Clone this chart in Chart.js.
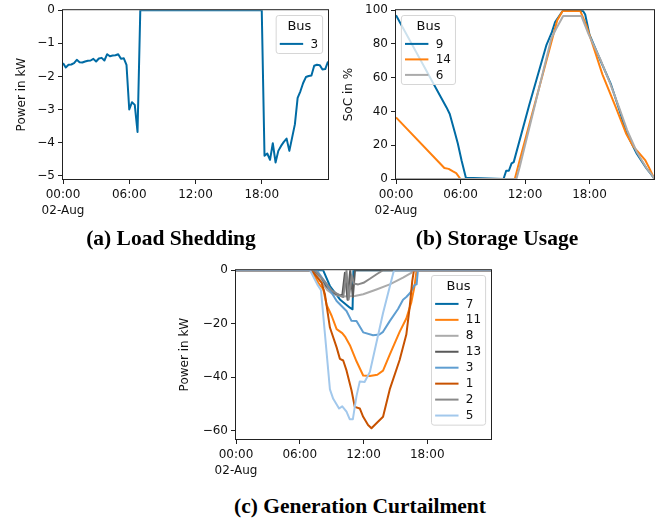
<!DOCTYPE html>
<html><head><meta charset="utf-8">
<script src="https://cdn.jsdelivr.net/npm/chart.js@4.4.1/dist/chart.umd.min.js"></script>
<style>
html,body{margin:0;padding:0;background:#fff;}
body{width:672px;height:523px;position:relative;overflow:hidden;}
canvas{position:absolute;}
.cap{position:absolute;font-family:"Liberation Serif",serif;font-weight:bold;font-size:21.5px;line-height:20px;text-align:center;color:#000;white-space:nowrap;width:200px;}
</style></head><body>
<canvas id="ca" width="336" height="230" style="left:0;top:0"></canvas>
<canvas id="cb" width="336" height="230" style="left:336px;top:0"></canvas>
<canvas id="cc" width="330" height="230" style="left:170px;top:260px"></canvas>
<div class="cap" style="left:71px;top:228px">(a) Load Shedding</div>
<div class="cap" style="left:397px;top:228px">(b) Storage Usage</div>
<div class="cap" style="left:234px;top:496px">(c) Generation Curtailment</div>
<script>
// ---------- data ----------
const xTickValues = [0, 6, 12, 18];
const xTickLabels = [["00:00", "02-Aug"], "06:00", "12:00", "18:00"];

// (a) Load shedding, bus 3 (kW)
const shedBuses = ["3"];
const shedHours = [0,0.25,0.5,0.75,1,1.25,1.5,1.75,2,2.25,2.5,2.75,3,3.25,3.5,3.75,4,4.25,4.5,4.75,5,5.25,5.5,5.75,6,6.25,6.5,6.75,7,18,18.25,18.5,18.75,19,19.25,19.5,19.75,20,20.25,20.5,20.75,21,21.25,21.5,21.75,22,22.25,22.5,22.75,23,23.25,23.5,23.75,24];
const shedBus3 = [-1.6,-1.73,-1.65,-1.64,-1.6,-1.5,-1.57,-1.58,-1.55,-1.53,-1.52,-1.47,-1.55,-1.46,-1.44,-1.52,-1.33,-1.39,-1.37,-1.36,-1.33,-1.47,-1.45,-1.65,-3.0,-2.78,-2.86,-3.68,0,0,-4.4,-4.33,-4.52,-4.02,-4.6,-4.25,-4.1,-3.98,-3.88,-4.25,-3.85,-3.45,-2.65,-2.45,-2.2,-2.02,-1.99,-1.97,-1.68,-1.65,-1.66,-1.79,-1.78,-1.55];
const shedYTicks = [0, -1, -2, -3, -4, -5];

// (b) Storage state of charge (%)
const socBuses = ["9", "14", "6"];
const soc9Hours = [0,4.7,5.0,5.5,5.75,6.1,6.5,10.0,10.25,10.5,10.75,10.95,12.4,14.0,14.5,14.8,15.5,17.4,17.6,18.0,19.0,20.0,20.8,21.45,22.4,23.3,23.8,24];
const soc9 = [97,42.4,38.5,27,21,11,0.8,0,4.9,4.9,9.2,10,44,79.5,87,93,99.5,99.5,97.5,85.5,70.5,56,40.5,27,15,6.3,2.3,0.5];
const soc14Hours = [0,4.5,4.9,5.3,5.6,6.0,11.05,11.5,15.0,15.5,17.15,17.7,18.3,19.2,20.45,21.4,22.1,22.6,23.2,23.6,24];
const soc14 = [36.5,6.5,6.0,4.5,3.5,0,0,11,94,99.5,99.5,91,79.5,62,42.4,27,19,15.5,11,6,0.5];
const soc6Hours = [0,11.2,11.5,14.45,14.9,15.55,17.25,17.9,19.0,19.9,20.8,21.5,22.4,23.3,23.8,24];
const soc6 = [0,0,7,83.4,89,96.5,96.5,86,71,57,41.5,29,16,6.5,2.5,0.5];
const socYTicks = [0, 20, 40, 60, 80, 100];

// (c) Generation curtailment (kW)
const curtBuses = ["7", "11", "8", "13", "3", "1", "2", "5"];
const curt7Hours = [0,8.2,8.84,9.78,10.72,10.97,11.05,24];
const curt7 = [0,0,-5.9,-10.9,-14,-14.6,0,0];
const curt11Hours = [0,7.1,7.75,8.22,8.53,9.0,9.47,10.0,10.3,10.72,11.34,11.97,12.6,13.3,13.84,14.47,15.4,16.03,16.5,16.8,17.0,24];
const curt11 = [0,0,-4.7,-7.2,-13,-17,-22,-23.5,-25,-28,-34,-39.3,-39.5,-39,-37.5,-31.5,-23,-18,-12,-6,0,0];
const curt8Hours = [0,7.3,8.0,8.6,9.15,10.0,11.18,11.97,13.22,14.47,15.72,16.5,16.6,24];
const curt8 = [0,0,-4,-7.5,-9,-9.8,-9.6,-9,-7.2,-5.3,-2.8,-1,0,0];
const curt13Hours = [0,7.3,8.0,8.5,9.0,9.5,10.0,10.25,10.5,10.75,11.0,11.2,24];
const curt13 = [0,0,-2.5,-5.9,-8,-9,-9.5,-1,-11,0,-10,0,0];
const curt3Hours = [0,7.6,8.53,9.47,10.4,10.87,11.34,11.97,12.9,13.5,13.84,14.47,15.25,15.72,16.03,16.4,16.81,17.0,17.12,24];
const curt3 = [0,0,-5.3,-11.5,-15.2,-18.9,-19,-23.2,-24.3,-24,-23,-19,-14.5,-11,-10,-8.4,-5.5,-5.3,0,0];
const curt1Hours = [0,7.1,8.06,8.37,8.84,9.47,9.78,10.09,10.4,10.87,11.18,11.65,11.97,12.43,12.75,13.22,13.84,14.47,15.4,16.03,16.34,16.59,16.75,24];
const curt1 = [0,0,-4.7,-9,-21.4,-28.8,-33.1,-33.7,-37.4,-44.8,-51,-51.6,-54.7,-57.8,-59,-57.1,-54.7,-44.5,-33.5,-24,-14,-4,0,0];
const curt2Hours = [0,7.4,8.3,9.0,9.6,10.1,10.4,10.6,10.9,11.1,11.5,12.0,12.6,13.2,13.84,24];
const curt2 = [0,0,-4,-7.5,-9,-10,0,-11,-2,-5,-5.3,-4.7,-3.2,-1.6,0,0];
const curt5Hours = [0,6.97,7.65,8.0,8.84,9.15,9.7,10.0,10.4,10.7,11.0,11.34,11.65,12.1,12.6,13.84,14.8,14.9,24];
const curt5 = [0,0,-5.3,-7.5,-44.5,-48,-51.6,-50.8,-52.8,-55.6,-55.6,-47,-41.5,-41.7,-38,-16,-1,0,0];
const curtYTicks = [0, -20, -40, -60];

// ---------- styling ----------
const PAL = ["#006BA4", "#FF800E", "#ABABAB", "#595959", "#5F9ED1", "#C85200", "#898989", "#A2C8EC"];
const FONT = '"DejaVu Sans", sans-serif';
const INK = "#111";

const pts = (hs, vs) => hs.map((h, i) => ({x: h, y: vs[i]}));
const fmt = v => (v < 0 ? "\u2212" + Math.abs(v) : String(v));

const mplPlugin = {
  id: "mpl",
  afterDatasetsDraw(chart, args, opts) {
    const ctx = chart.ctx, a = chart.chartArea;
    ctx.save();
    ctx.strokeStyle = "#222"; ctx.lineWidth = 1;
    ctx.strokeRect(a.left - 0.5, a.top - 0.5, a.right - a.left + 1, a.bottom - a.top + 1);
    // legend
    const ds = chart.data.datasets;
    const lineLen = 23.4, gapL = 3.6, gapT = 7.3, rowH = opts.rowH, padR = 4.5;
    ctx.font = "12px " + FONT;
    const textW = Math.max(...ds.map(d => ctx.measureText(d.label).width));
    ctx.font = "13px " + FONT;
    const titleW = ctx.measureText(opts.title).width;
    const w = Math.max(gapL + lineLen + gapT + textW + padR, titleW + 10);
    const h = 28.4 + (ds.length - 1) * rowH + 9.6;
    const x = opts.corner === "tl" ? a.left + 5.4 : a.right - 5.4 - w;
    const y = a.top + 5.3;
    const r = 2.5;
    ctx.beginPath();
    ctx.moveTo(x + r, y); ctx.lineTo(x + w - r, y); ctx.arcTo(x + w, y, x + w, y + r, r);
    ctx.lineTo(x + w, y + h - r); ctx.arcTo(x + w, y + h, x + w - r, y + h, r);
    ctx.lineTo(x + r, y + h); ctx.arcTo(x, y + h, x, y + h - r, r);
    ctx.lineTo(x, y + r); ctx.arcTo(x, y, x + r, y, r); ctx.closePath();
    ctx.fillStyle = "rgba(255,255,255,0.8)"; ctx.fill();
    ctx.strokeStyle = "#d6d6d6"; ctx.lineWidth = 1; ctx.stroke();
    ctx.fillStyle = INK; ctx.textAlign = "center"; ctx.textBaseline = "middle";
    ctx.fillText(opts.title, x + w / 2, y + 11);
    ctx.font = "12px " + FONT; ctx.textAlign = "left";
    ds.forEach((d, i) => {
      const yy = y + 28.4 + i * rowH;
      ctx.strokeStyle = d.borderColor; ctx.lineWidth = 2;
      ctx.beginPath(); ctx.moveTo(x + gapL, yy); ctx.lineTo(x + gapL + lineLen, yy); ctx.stroke();
      ctx.fillStyle = INK;
      ctx.fillText(d.label, x + gapL + lineLen + gapT, yy + 0.5);
    });
    ctx.restore();
  }
};

function makeChart(id, datasets, cfg) {
  const n = datasets.length;
  datasets.forEach((d, i) => { d.order = n - 1 - i; });
  return new Chart(document.getElementById(id), {
    type: "line",
    data: {datasets},
    plugins: [mplPlugin],
    options: {
      responsive: false, animation: false, events: [],
      layout: {padding: {left: 0, top: cfg.padTop, right: cfg.padRight, bottom: 0}},
      elements: {line: {borderWidth: 2, tension: 0, borderJoinStyle: "round"}, point: {radius: 0}},
      plugins: {legend: {display: false}, tooltip: {enabled: false},
        mpl: {title: "Bus", corner: cfg.corner, rowH: cfg.rowH}},
      scales: {
        x: {
          type: "linear", min: 0, max: 24,
          afterBuildTicks: s => { s.ticks = xTickValues.map(v => ({value: v})); },
          afterFit: s => { s.height = 51; },
          ticks: {autoSkip: false, maxRotation: 0, minRotation: 0, padding: 3, color: INK,
            font: {family: FONT, size: 12, lineHeight: 1.35},
            callback: v => { const i = xTickValues.indexOf(v); return i >= 0 ? xTickLabels[i] : ""; }},
          grid: {display: true, drawOnChartArea: false, drawTicks: true, tickLength: 5, tickColor: "#222", tickWidth: 1},
          border: {display: false}
        },
        y: {
          type: "linear", min: cfg.yMin, max: cfg.yMax,
          afterBuildTicks: s => { s.ticks = cfg.yTicks.map(v => ({value: v})); },
          afterFit: s => { s.width = cfg.yWidth; },
          ticks: {padding: 3, color: INK, font: {family: FONT, size: 12}, callback: v => fmt(v)},
          grid: {display: true, drawOnChartArea: false, drawTicks: true, tickLength: 5, tickColor: "#222", tickWidth: 1},
          border: {display: false},
          title: {display: true, text: cfg.yTitle, color: INK, font: {family: FONT, size: 12},
            padding: {top: cfg.titlePad, bottom: 0}}
        }
      }
    }
  });
}

makeChart("ca", [
  {label: shedBuses[0], data: pts(shedHours, shedBus3), borderColor: PAL[0]}
], {yMin: -5.1, yMax: 0, yTicks: shedYTicks, yTitle: "Power in kW", yWidth: 63, titlePad: 14.5,
    padTop: 8, padRight: 8, corner: "tr", rowH: 15.5});

makeChart("cb", [
  {label: socBuses[0], data: pts(soc9Hours, soc9), borderColor: PAL[0]},
  {label: socBuses[1], data: pts(soc14Hours, soc14), borderColor: PAL[1]},
  {label: socBuses[2], data: pts(soc6Hours, soc6), borderColor: PAL[2]}
], {yMin: 0, yMax: 100, yTicks: socYTicks, yTitle: "SoC in %", yWidth: 60, titlePad: 6.1,
    padTop: 8, padRight: 18, corner: "tl", rowH: 15.5});

const curtSeries = [[curt7Hours, curt7], [curt11Hours, curt11], [curt8Hours, curt8], [curt13Hours, curt13],
                    [curt3Hours, curt3], [curt1Hours, curt1], [curt2Hours, curt2], [curt5Hours, curt5]];
makeChart("cc", curtSeries.map((s, i) => ({label: curtBuses[i], data: pts(s[0], s[1]), borderColor: PAL[i]})),
  {yMin: -63, yMax: 0, yTicks: curtYTicks, yTitle: "Power in kW", yWidth: 66, titlePad: 7.8,
   padTop: 9, padRight: 9, corner: "tr", rowH: 15.95});
</script>
</body></html>
